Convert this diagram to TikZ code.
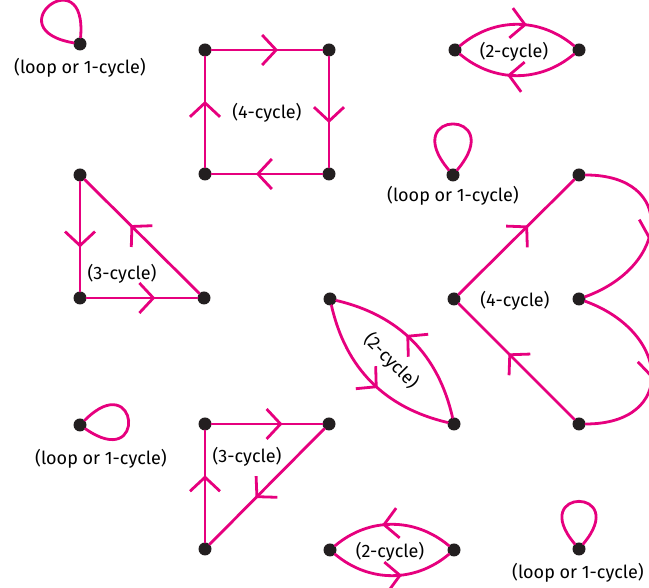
\documentclass[tikz,border=0pt]{standalone}
\usepackage{fontspec}
\setmainfont{Fira Sans}
\usetikzlibrary{arrows.meta,decorations.markings}
\definecolor{cyclepink}{RGB}{230,0,126}
\definecolor{dotgrey}{RGB}{35,31,32}
\tikzset{
  cycle edge/.style={draw=cyclepink,line width=2.8pt},
  mid arrow/.style={postaction={decorate},
    decoration={markings,mark=at position #1 with {\arrow{Straight Barb[length=14pt,width=30pt]}}}},
  vertex/.style={circle,fill=dotgrey,inner sep=0pt,minimum size=13pt},
  cycle label/.style={font=\fontsize{18}{21}\selectfont,text=black,inner sep=1pt}
}

\begin{document}
\begin{tikzpicture}[x=1pt,y=1pt,line cap=round,line join=round]
  \useasboundingbox (0,0) rectangle (649,588);

  % Loops (1-cycles).
  \node[vertex] (la) at (80,544) {};
  \node[vertex] (lb) at (453,413) {};
  \node[vertex] (lc) at (80,163) {};
  \node[vertex] (ld) at (579,39) {};
  \draw[cycle edge] (la) to[out=170,in=85,min distance=80pt] (la);
  \draw[cycle edge] (lb) to[out=130,in=50,min distance=80pt] (lb);
  \draw[cycle edge] (lc) to[out=45,in=-35,min distance=76pt] (lc);
  \draw[cycle edge] (ld) to[out=130,in=50,min distance=74pt] (ld);
  \node[cycle label] at (80,520) {(loop or 1-cycle)};
  \node[cycle label] at (453,392) {(loop or 1-cycle)};
  \node[cycle label] at (101,129) {(loop or 1-cycle)};
  \node[cycle label] at (578,15) {(loop or 1-cycle)};

  % The square 4-cycle.
  \node[vertex] (sqa) at (205,538) {};
  \node[vertex] (sqb) at (329,538) {};
  \node[vertex] (sqc) at (329,414) {};
  \node[vertex] (sqd) at (205,414) {};
  \draw[cycle edge,mid arrow=0.6] (sqa) -- (sqb);
  \draw[cycle edge,mid arrow=0.6] (sqb) -- (sqc);
  \draw[cycle edge,mid arrow=0.6] (sqc) -- (sqd);
  \draw[cycle edge,mid arrow=0.6] (sqd) -- (sqa);
  \node[cycle label] at (267,475) {(4-cycle)};

  % 2-cycle at top right.
  \node[vertex] (ta) at (455,538) {};
  \node[vertex] (tb) at (579,538) {};
  \draw[cycle edge,mid arrow=0.58] (ta) to[bend left=40] (tb);
  \draw[cycle edge,mid arrow=0.58] (tb) to[bend left=40] (ta);
  \node[cycle label] at (514,536) {(2-cycle)};

  % 3-cycle on the left.
  \node[vertex] (tra) at (80,413) {};
  \node[vertex] (trb) at (80,290) {};
  \node[vertex] (trc) at (204,290) {};
  \draw[cycle edge,mid arrow=0.6] (tra) -- (trb);
  \draw[cycle edge,mid arrow=0.62] (trb) -- (trc);
  \draw[cycle edge,mid arrow=0.6] (trc) -- (tra);
  \node[cycle label] at (122,314) {(3-cycle)};

  % The heart-shaped 4-cycle.
  \node[vertex] (hl) at (454,289) {};
  \node[vertex] (ht) at (579,413) {};
  \node[vertex] (hm) at (579,289) {};
  \node[vertex] (hb) at (579,164) {};
  \draw[cycle edge,mid arrow=0.6] (hl) -- (ht);
  \draw[cycle edge,mid arrow=0.55] (ht) to[out=0,in=20,looseness=1.9] (hm);
  \draw[cycle edge,mid arrow=0.55] (hm) to[out=-20,in=0,looseness=1.9] (hb);
  \draw[cycle edge,mid arrow=0.57] (hb) -- (hl);
  \node[cycle label] at (515,287) {(4-cycle)};

  % Diagonal 2-cycle.
  \node[vertex] (da) at (330,289) {};
  \node[vertex] (db) at (454,164) {};
  \draw[cycle edge,mid arrow=0.55] (da) to[bend right=32] (db);
  \draw[cycle edge,mid arrow=0.55] (db) to[bend right=32] (da);
  \node[cycle label,rotate=-45] at (391,227) {(2-cycle)};

  % 3-cycle at the bottom.
  \node[vertex] (tsa) at (205,164) {};
  \node[vertex] (tsb) at (329,164) {};
  \node[vertex] (tsc) at (205,39) {};
  \draw[cycle edge,mid arrow=0.64] (tsa) -- (tsb);
  \draw[cycle edge,mid arrow=0.6] (tsb) -- (tsc);
  \draw[cycle edge,mid arrow=0.6] (tsc) -- (tsa);
  \node[cycle label] at (247,131) {(3-cycle)};

  % 2-cycle at the bottom.
  \node[vertex] (ba) at (330,38) {};
  \node[vertex] (bb) at (454,38) {};
  \draw[cycle edge,mid arrow=0.58] (bb) to[bend right=40] (ba);
  \draw[cycle edge,mid arrow=0.58] (ba) to[bend right=40] (bb);
  \node[cycle label] at (390,36) {(2-cycle)};
\end{tikzpicture}
\end{document}
